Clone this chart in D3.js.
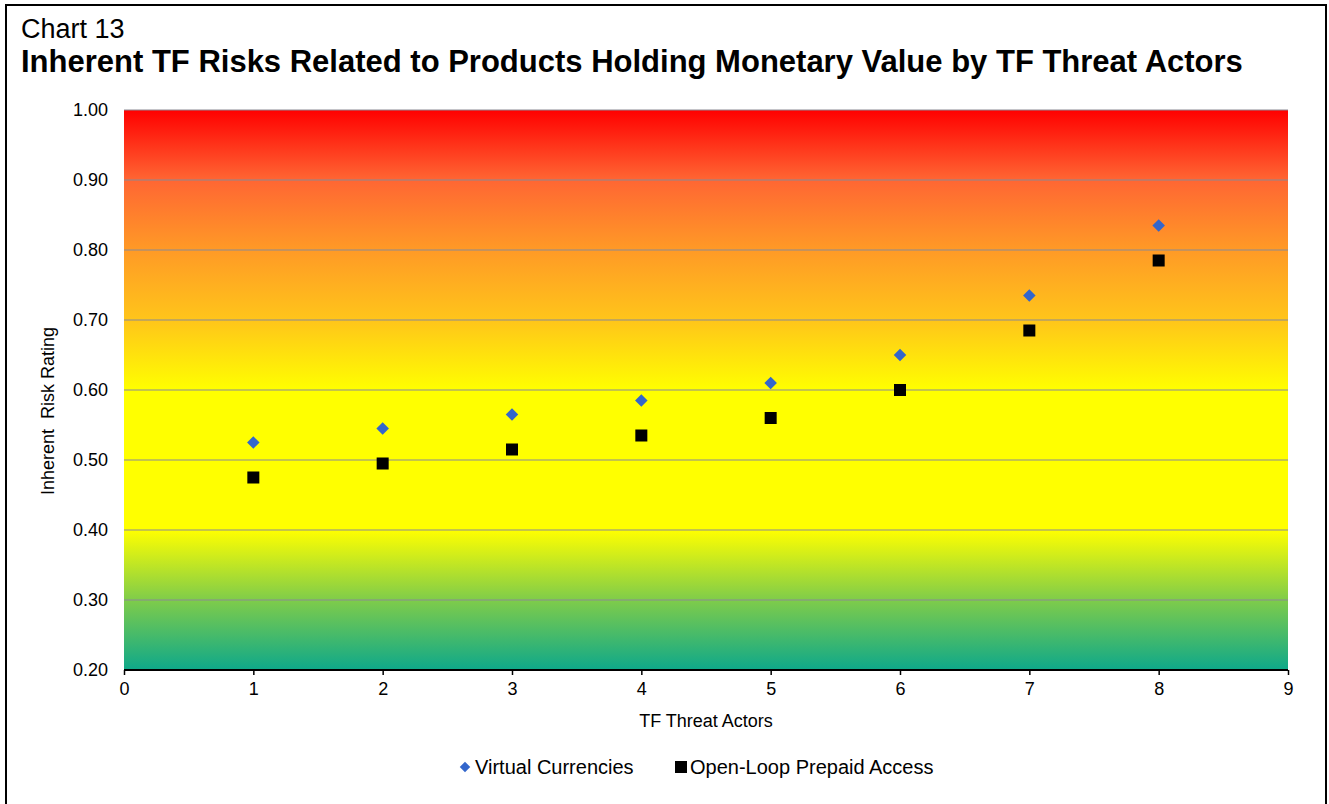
<!DOCTYPE html>
<html>
<head>
<meta charset="utf-8">
<script src="https://cdn.jsdelivr.net/npm/d3@7"></script>
<style>
  body { margin: 0; background: #fff; }
  text { font-family: "Liberation Sans", Arial, sans-serif; fill: #000; }
</style>
</head>
<body>
<div id="chart"></div>
<script>
// ==============================
// Data
// ==============================
var actors = [1, 2, 3, 4, 5, 6, 7, 8];
var virtualCurrencies = [0.525, 0.545, 0.565, 0.585, 0.61, 0.65, 0.735, 0.835];
var openLoopPrepaid = [0.475, 0.495, 0.515, 0.535, 0.56, 0.60, 0.685, 0.785];
var yTicks = [0.2, 0.3, 0.4, 0.5, 0.6, 0.7, 0.8, 0.9, 1.0];
var xTicks = [0, 1, 2, 3, 4, 5, 6, 7, 8, 9];

// ==============================
// Setup
// ==============================
var svgWidth = 1329;
var svgHeight = 804;
var margin = { top: 110, right: 41, bottom: 134, left: 124 };
var width = svgWidth - margin.left - margin.right;
var height = svgHeight - margin.top - margin.bottom;
var fontStack = "Liberation Sans, Arial, sans-serif";

var svg = d3.select("#chart").append("svg")
  .attr("width", svgWidth)
  .attr("height", svgHeight);

// outer frame
svg.append("rect")
  .attr("x", 6).attr("y", 5)
  .attr("width", 1320).attr("height", 810)
  .attr("fill", "none")
  .attr("stroke", "#000")
  .attr("stroke-width", 2);

// titles
svg.append("text")
  .attr("x", 21).attr("y", 38)
  .style("font-size", "27px")
  .text("Chart 13");

svg.append("text")
  .attr("x", 21).attr("y", 72)
  .style("font-size", "31px")
  .style("font-weight", "bold")
  .text("Inherent TF Risks Related to Products Holding Monetary Value by TF Threat Actors");

var chartGroup = svg.append("g")
  .attr("transform", `translate(${margin.left}, ${margin.top})`);

// scales
var xScale = d3.scaleLinear().domain([0, 9]).range([0, width]);
var yScale = d3.scaleLinear().domain([0.2, 1.0]).range([height, 0]);

// background gradient
var defs = svg.append("defs");
var grad = defs.append("linearGradient")
  .attr("id", "riskGrad")
  .attr("x1", 0).attr("y1", 0).attr("x2", 0).attr("y2", 1);
var stops = [
  [1.0, "#ff0000"],
  [0.9, "#ff6633"],
  [0.8, "#ff9a26"],
  [0.7, "#ffc51a"],
  [0.6, "#ffff00"],
  [0.4, "#ffff00"],
  [0.3, "#7fcc4a"],
  [0.2, "#0ea88a"]
];
stops.forEach(function(s) {
  grad.append("stop")
    .attr("offset", (1.0 - s[0]) / 0.8)
    .attr("stop-color", s[1]);
});

chartGroup.append("rect")
  .attr("x", 0).attr("y", 0)
  .attr("width", width).attr("height", height)
  .attr("fill", "url(#riskGrad)");

// gridlines
chartGroup.selectAll(".grid")
  .data(yTicks.slice(1))
  .enter()
  .append("line")
  .attr("x1", 0).attr("x2", width)
  .attr("y1", d => yScale(d)).attr("y2", d => yScale(d))
  .attr("stroke", "#8a8a94")
  .attr("stroke-width", 1.2);

// axes
var bottomAxis = d3.axisBottom(xScale).tickValues(xTicks).tickSize(5).tickPadding(7);
var xAxis = chartGroup.append("g")
  .attr("transform", `translate(0, ${height})`)
  .call(bottomAxis);
xAxis.select(".domain").attr("stroke-width", 2).attr("d", `M0,0H${width}`);
xAxis.selectAll(".tick line").attr("stroke-width", 1.5);
xAxis.selectAll("text").style("font-size", "18px").style("font-family", fontStack);

var leftAxis = d3.axisLeft(yScale).tickValues(yTicks).tickSize(0).tickPadding(16)
  .tickFormat(d3.format(".2f"));
var yAxis = chartGroup.append("g").call(leftAxis);
yAxis.select(".domain").remove();
yAxis.selectAll("text").style("font-size", "18px").style("font-family", fontStack);

// axis titles
svg.append("text")
  .attr("x", margin.left + width / 2)
  .attr("y", 727)
  .attr("text-anchor", "middle")
  .style("font-size", "18px")
  .text("TF Threat Actors");

svg.append("text")
  .attr("transform", "translate(54, 411) rotate(-90)")
  .attr("text-anchor", "middle")
  .style("font-size", "18px")
  .style("white-space", "pre")
  .attr("xml:space", "preserve")
  .text("Inherent  Risk Rating");

// markers
var diamond = d3.symbol().type(d3.symbolDiamond2).size(100);
chartGroup.selectAll(".vc")
  .data(actors)
  .enter()
  .append("path")
  .attr("class", "vc")
  .attr("d", diamond)
  .attr("transform", (d, i) => `translate(${xScale(d)}, ${yScale(virtualCurrencies[i])})`)
  .attr("fill", "#3366cc");

chartGroup.selectAll(".olp")
  .data(actors)
  .enter()
  .append("rect")
  .attr("class", "olp")
  .attr("x", d => xScale(d) - 6)
  .attr("y", (d, i) => yScale(openLoopPrepaid[i]) - 6)
  .attr("width", 12).attr("height", 12)
  .attr("fill", "#000");

// legend
var legend = svg.append("g");
legend.append("path")
  .attr("d", d3.symbol().type(d3.symbolDiamond2).size(70))
  .attr("transform", "translate(465, 767)")
  .attr("fill", "#3366cc");
legend.append("text")
  .attr("x", 475).attr("y", 774)
  .style("font-size", "20px")
  .text("Virtual Currencies");
legend.append("rect")
  .attr("x", 675).attr("y", 761)
  .attr("width", 12).attr("height", 12)
  .attr("fill", "#000");
legend.append("text")
  .attr("x", 690).attr("y", 774)
  .style("font-size", "20px")
  .text("Open-Loop Prepaid Access");
</script>
</body>
</html>
